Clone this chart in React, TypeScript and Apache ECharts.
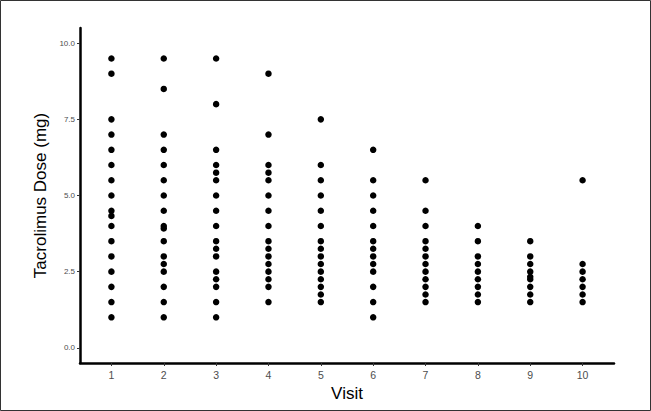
import React, { useEffect, useRef } from "react";
import * as echarts from "echarts";

const visits = [1, 2, 3, 4, 5, 6, 7, 8, 9, 10];
const visit1 = [9.5, 9.0, 7.5, 7.0, 6.5, 6.0, 5.5, 5.0, 4.5, 4.33, 4.0, 3.5, 3.0, 2.5, 2.0, 1.5, 1.0];
const visit2 = [9.5, 8.5, 7.0, 6.5, 6.0, 5.5, 5.0, 4.5, 4.0, 3.92, 3.5, 3.0, 2.75, 2.5, 2.0, 1.5, 1.0];
const visit3 = [9.5, 8.0, 6.5, 6.0, 5.75, 5.5, 5.0, 4.5, 4.0, 3.5, 3.25, 3.0, 2.5, 2.25, 2.0, 1.5, 1.0];
const visit4 = [9.0, 7.0, 6.0, 5.75, 5.5, 5.0, 4.5, 4.0, 3.5, 3.25, 3.0, 2.75, 2.5, 2.25, 2.0, 1.5];
const visit5 = [7.5, 6.0, 5.5, 5.0, 4.5, 4.0, 3.5, 3.25, 3.0, 2.75, 2.5, 2.25, 2.0, 1.75, 1.5];
const visit6 = [6.5, 5.5, 5.0, 4.5, 4.0, 3.5, 3.25, 3.0, 2.75, 2.5, 2.0, 1.5, 1.0];
const visit7 = [5.5, 4.5, 4.0, 3.5, 3.25, 3.0, 2.75, 2.5, 2.25, 2.0, 1.75, 1.5];
const visit8 = [4.0, 3.5, 3.0, 2.75, 2.5, 2.25, 2.0, 1.75, 1.5];
const visit9 = [3.5, 3.0, 2.75, 2.5, 2.33, 2.25, 2.0, 1.75, 1.5];
const visit10 = [5.5, 2.75, 2.5, 2.25, 2.0, 1.75, 1.5];
const doses = [visit1, visit2, visit3, visit4, visit5, visit6, visit7, visit8, visit9, visit10];
const yTicks = [0, 2.5, 5, 7.5, 10];

export default function App() {
  const ref = useRef<HTMLDivElement>(null);
  useEffect(() => {
    if (!ref.current) return;
    const chart = echarts.init(ref.current, null, { renderer: "svg" });
    const points: number[][] = [];
    visits.forEach((v, i) => doses[i].forEach((d) => points.push([v, d])));
    const font = "Liberation Sans, Arial, sans-serif";
    chart.setOption({
      animation: false,
      backgroundColor: "#ffffff",
      grid: { left: 80, right: 37, top: 28, bottom: 48 },
      graphic: [
        {
          type: "rect",
          shape: { x: 0.5, y: 0.5, width: 650, height: 410 },
          style: { fill: "none", stroke: "#333333", lineWidth: 1 },
          silent: true,
        },
      ],
      xAxis: {
        type: "value",
        min: 0.4,
        max: 10.6,
        name: "Visit",
        nameLocation: "middle",
        nameGap: 21,
        nameTextStyle: { fontSize: 17, color: "#000", fontFamily: font },
        axisLine: { show: true, onZero: false, lineStyle: { color: "#000", width: 2.5 } },
        axisTick: { show: true, customValues: visits, length: 3, lineStyle: { color: "#333" } },
        axisLabel: { customValues: visits, fontSize: 10.5, color: "#4d4d4d", margin: 6, fontFamily: font },
        splitLine: { show: false },
      },
      yAxis: {
        type: "value",
        min: -0.5,
        max: 10.5,
        name: "Tacrolimus Dose (mg)",
        nameLocation: "middle",
        nameGap: 24,
        nameTextStyle: { fontSize: 17, color: "#000", fontFamily: font },
        axisLine: { show: true, onZero: false, lineStyle: { color: "#000", width: 2.5 } },
        axisTick: { show: true, customValues: yTicks, length: 3, lineStyle: { color: "#333" } },
        axisLabel: {
          customValues: yTicks,
          fontSize: 8,
          color: "#4d4d4d",
          margin: 5,
          fontFamily: font,
          formatter: (v: number) => v.toFixed(1),
        },
        splitLine: { show: false },
      },
      series: [
        {
          type: "scatter",
          data: points,
          symbol: "circle",
          symbolSize: 6.5,
          itemStyle: { color: "#000", opacity: 1 },
        },
      ],
    });
    return () => chart.dispose();
  }, []);
  return (
    <div
      ref={ref}
      style={{ position: "fixed", left: 0, top: 0, width: 651, height: 411 }}
    />
  );
}
